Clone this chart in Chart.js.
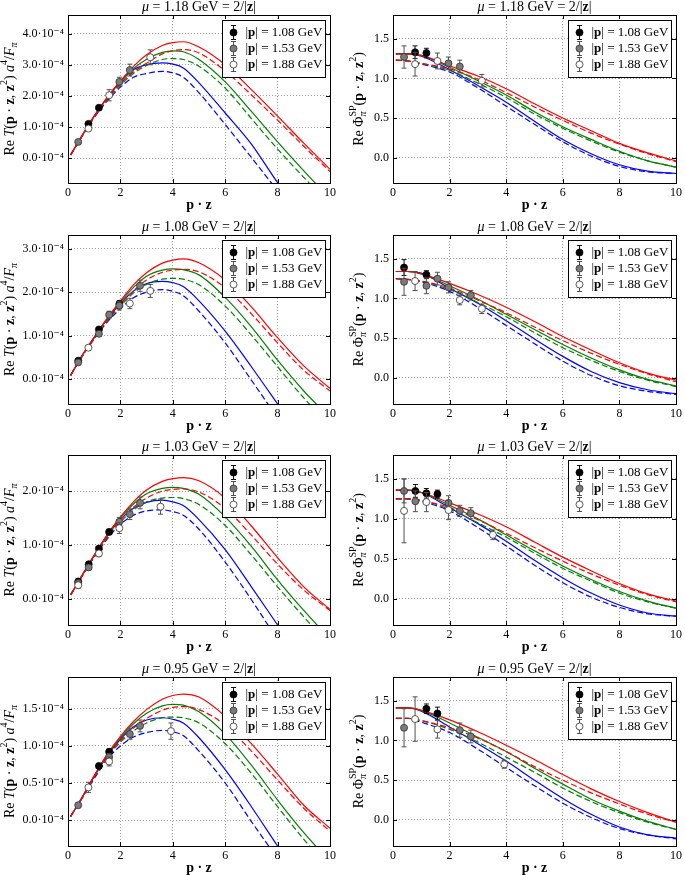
<!DOCTYPE html>
<html><head><meta charset="utf-8">
<script src="https://cdn.jsdelivr.net/npm/chart.js@4.4.1/dist/chart.umd.min.js"></script>
<style>
html,body{margin:0;padding:0;background:#fff;width:685px;height:875px;overflow:hidden;}
canvas{position:absolute;}
</style></head><body>
<script>
const SERIF = '"Liberation Serif","DejaVu Serif",serif';

// ---------- data ----------
const momentumLabels = ['1.08', '1.53', '1.88'];
const muLabels = ['1.18', '1.08', '1.03', '0.95'];
const xTicks = [0, 2, 4, 6, 8, 10];

// curve abscissae (p·z)
const pzCurveT = [0.1, 0.5, 1, 1.5, 2, 2.5, 3, 3.6, 4, 4.4, 5, 6, 7, 8, 9, 10];
const pzCurvePhi = [0.1, 0.5, 1, 2, 3, 4, 5, 6, 7, 8, 9, 10];

// Re T curves (units of 1e-4): red solid, red dashed, green solid, green dashed, blue solid, blue dashed
const T118_curves = [
  [0.10, 0.67, 1.35, 1.95, 2.48, 2.95, 3.32, 3.62, 3.71, 3.74, 3.57, 3.00, 2.20, 1.35, 0.48, -0.36],
  [0.10, 0.66, 1.32, 1.90, 2.40, 2.77, 3.05, 3.35, 3.45, 3.49, 3.38, 2.80, 2.03, 1.22, 0.38, -0.43],
  [0.10, 0.67, 1.35, 1.95, 2.47, 2.88, 3.18, 3.40, 3.45, 3.42, 3.17, 2.45, 1.50, 0.52, -0.41, -1.30],
  [0.10, 0.66, 1.32, 1.88, 2.35, 2.72, 2.98, 3.17, 3.20, 3.17, 2.95, 2.25, 1.27, 0.29, -0.62, -1.50],
  [0.10, 0.67, 1.35, 1.94, 2.45, 2.84, 3.00, 3.06, 3.02, 2.90, 2.42, 1.45, 0.45, -0.79, -1.90, -3.00],
  [0.10, 0.65, 1.30, 1.84, 2.28, 2.60, 2.72, 2.79, 2.74, 2.60, 2.10, 1.08, 0.02, -1.05, -2.10, -3.10]
];
const T108_curves = [
  [0.08, 0.50, 0.96, 1.40, 1.80, 2.17, 2.45, 2.67, 2.74, 2.77, 2.68, 2.28, 1.66, 0.95, 0.30, -0.22],
  [0.08, 0.49, 0.94, 1.36, 1.72, 2.03, 2.28, 2.46, 2.51, 2.53, 2.47, 2.10, 1.50, 0.83, 0.20, -0.28],
  [0.08, 0.50, 0.96, 1.39, 1.77, 2.11, 2.37, 2.51, 2.54, 2.52, 2.40, 1.88, 1.20, 0.43, -0.28, -0.90],
  [0.08, 0.49, 0.93, 1.34, 1.68, 1.98, 2.18, 2.30, 2.32, 2.30, 2.17, 1.68, 1.01, 0.28, -0.44, -1.05],
  [0.08, 0.50, 0.95, 1.38, 1.74, 2.03, 2.20, 2.25, 2.22, 2.13, 1.80, 1.10, 0.28, -0.58, -1.45, -2.30],
  [0.08, 0.48, 0.92, 1.31, 1.62, 1.87, 2.00, 2.06, 2.02, 1.92, 1.56, 0.83, -0.03, -0.90, -1.75, -2.50]
];
const T103_curves = [
  [0.07, 0.40, 0.81, 1.19, 1.52, 1.80, 2.02, 2.18, 2.23, 2.25, 2.19, 1.87, 1.35, 0.76, 0.22, -0.20],
  [0.07, 0.39, 0.79, 1.15, 1.46, 1.70, 1.87, 2.00, 2.03, 2.04, 1.98, 1.68, 1.18, 0.64, 0.16, -0.22],
  [0.07, 0.40, 0.80, 1.18, 1.50, 1.76, 1.95, 2.05, 2.07, 2.05, 1.94, 1.52, 0.97, 0.35, -0.22, -0.75],
  [0.07, 0.39, 0.78, 1.13, 1.42, 1.65, 1.80, 1.87, 1.88, 1.86, 1.75, 1.36, 0.81, 0.22, -0.34, -0.88],
  [0.07, 0.40, 0.80, 1.17, 1.47, 1.68, 1.79, 1.83, 1.80, 1.73, 1.47, 0.91, 0.22, -0.49, -1.20, -1.90],
  [0.07, 0.39, 0.77, 1.11, 1.38, 1.55, 1.63, 1.65, 1.62, 1.55, 1.29, 0.68, -0.02, -0.76, -1.45, -2.10]
];
const T095_curves = [
  [0.05, 0.28, 0.60, 0.89, 1.13, 1.33, 1.49, 1.63, 1.68, 1.70, 1.66, 1.40, 1.03, 0.62, 0.20, -0.11],
  [0.05, 0.28, 0.58, 0.86, 1.07, 1.24, 1.37, 1.48, 1.52, 1.53, 1.49, 1.28, 0.93, 0.54, 0.16, -0.15],
  [0.05, 0.28, 0.59, 0.88, 1.11, 1.30, 1.44, 1.54, 1.56, 1.55, 1.46, 1.16, 0.74, 0.27, -0.17, -0.56],
  [0.05, 0.28, 0.58, 0.85, 1.05, 1.20, 1.31, 1.38, 1.39, 1.38, 1.31, 1.03, 0.63, 0.18, -0.26, -0.66],
  [0.05, 0.28, 0.59, 0.87, 1.09, 1.26, 1.35, 1.38, 1.36, 1.31, 1.11, 0.68, 0.18, -0.35, -0.87, -1.35],
  [0.05, 0.27, 0.56, 0.82, 1.00, 1.12, 1.18, 1.21, 1.19, 1.14, 0.93, 0.50, -0.02, -0.52, -1.02, -1.50]
];

// Re Phi curves
const P118_curves = [
  [1.31, 1.31, 1.29, 1.16, 1.03, 0.87, 0.68, 0.50, 0.34, 0.18, 0.06, -0.04],
  [1.23, 1.22, 1.19, 1.12, 0.99, 0.82, 0.64, 0.47, 0.31, 0.17, 0.05, -0.05],
  [1.31, 1.31, 1.29, 1.14, 0.97, 0.79, 0.58, 0.39, 0.23, 0.08, -0.04, -0.12],
  [1.23, 1.22, 1.19, 1.10, 0.94, 0.76, 0.55, 0.37, 0.21, 0.07, -0.04, -0.12],
  [1.31, 1.31, 1.28, 1.11, 0.91, 0.70, 0.46, 0.23, 0.05, -0.09, -0.17, -0.20],
  [1.23, 1.22, 1.18, 1.08, 0.88, 0.65, 0.42, 0.20, 0.02, -0.11, -0.18, -0.20]
];
const P108_curves = [
  [1.34, 1.34, 1.31, 1.19, 1.05, 0.89, 0.71, 0.52, 0.35, 0.19, 0.06, -0.03],
  [1.25, 1.24, 1.22, 1.13, 0.98, 0.82, 0.64, 0.47, 0.31, 0.17, 0.05, -0.05],
  [1.34, 1.34, 1.31, 1.16, 0.99, 0.80, 0.61, 0.42, 0.25, 0.10, -0.02, -0.10],
  [1.25, 1.24, 1.22, 1.11, 0.95, 0.77, 0.57, 0.38, 0.22, 0.08, -0.03, -0.11],
  [1.34, 1.34, 1.32, 1.13, 0.94, 0.72, 0.49, 0.27, 0.08, -0.06, -0.15, -0.20],
  [1.25, 1.24, 1.21, 1.09, 0.89, 0.66, 0.43, 0.21, 0.03, -0.10, -0.17, -0.21]
];
const P103_curves = [
  [1.36, 1.36, 1.33, 1.20, 1.06, 0.90, 0.71, 0.52, 0.35, 0.19, 0.06, -0.03],
  [1.25, 1.25, 1.23, 1.14, 0.99, 0.82, 0.64, 0.47, 0.31, 0.17, 0.05, -0.04],
  [1.36, 1.36, 1.33, 1.17, 1.00, 0.80, 0.60, 0.41, 0.24, 0.09, -0.03, -0.12],
  [1.25, 1.25, 1.23, 1.12, 0.95, 0.77, 0.57, 0.38, 0.22, 0.07, -0.04, -0.12],
  [1.36, 1.36, 1.33, 1.14, 0.94, 0.72, 0.48, 0.26, 0.07, -0.08, -0.18, -0.22],
  [1.25, 1.25, 1.22, 1.10, 0.89, 0.66, 0.42, 0.20, 0.02, -0.11, -0.19, -0.22]
];
const P095_curves = [
  [1.41, 1.41, 1.38, 1.26, 1.11, 0.94, 0.76, 0.57, 0.39, 0.23, 0.09, -0.03],
  [1.28, 1.28, 1.25, 1.16, 1.03, 0.86, 0.67, 0.50, 0.34, 0.20, 0.07, -0.03],
  [1.41, 1.41, 1.38, 1.22, 1.04, 0.86, 0.65, 0.45, 0.26, 0.11, -0.02, -0.12],
  [1.28, 1.28, 1.25, 1.14, 0.98, 0.79, 0.60, 0.40, 0.23, 0.09, -0.03, -0.12],
  [1.41, 1.41, 1.37, 1.17, 0.96, 0.74, 0.50, 0.27, 0.07, -0.09, -0.19, -0.23],
  [1.28, 1.28, 1.23, 1.10, 0.89, 0.66, 0.43, 0.21, 0.03, -0.11, -0.19, -0.24]
];

// lattice data: [p·z values], [central values], [errors]
const T118_p108 = [[0.78, 1.18], [1.10, 1.62], [0.04, 0.05]];
const T118_p153 = [[0.39, 1.96, 2.36], [0.52, 2.45, 2.83], [0.03, 0.15, 0.19]];
const T118_p188 = [[0.78, 1.57, 3.14], [0.95, 2.02, 3.24], [0.05, 0.18, 0.24]];
const T108_p108 = [[0.39, 1.18, 1.96], [0.42, 1.14, 1.73], [0.03, 0.04, 0.08]];
const T108_p153 = [[0.39, 1.18, 1.57, 1.96, 2.75], [0.38, 1.04, 1.48, 1.69, 2.15], [0.03, 0.05, 0.08, 0.10, 0.13]];
const T108_p188 = [[0.78, 2.36, 3.14], [0.72, 1.74, 2.03], [0.05, 0.12, 0.15]];
const T103_p108 = [[0.39, 0.79, 1.18, 1.57], [0.32, 0.64, 0.93, 1.24], [0.03, 0.03, 0.04, 0.05]];
const T103_p153 = [[0.39, 0.79, 1.96, 2.36, 2.75], [0.29, 0.58, 1.43, 1.57, 1.78], [0.04, 0.04, 0.08, 0.10, 0.11]];
const T103_p188 = [[0.39, 1.18, 1.96, 3.53], [0.25, 0.84, 1.31, 1.71], [0.06, 0.06, 0.10, 0.14]];
const T095_p108 = [[1.18, 1.57], [0.73, 0.92], [0.03, 0.04]];
const T095_p153 = [[0.39, 1.57, 2.36, 2.75], [0.20, 0.85, 1.16, 1.27], [0.03, 0.05, 0.07, 0.08]];
const T095_p188 = [[0.78, 1.57, 3.93], [0.44, 0.79, 1.20], [0.07, 0.06, 0.11]];

const P118_p108 = [[0.78, 1.18], [1.33, 1.32], [0.08, 0.06]];
const P118_p153 = [[0.39, 1.96, 2.36], [1.27, 1.19, 1.15], [0.14, 0.08, 0.08]];
const P118_p188 = [[0.78, 1.57, 3.14], [1.18, 1.22, 0.97], [0.15, 0.10, 0.08]];
const P108_p108 = [[0.39, 1.18], [1.39, 1.30], [0.10, 0.05]];
const P108_p153 = [[0.39, 1.18, 1.57, 1.96, 2.75], [1.21, 1.16, 1.25, 1.14, 1.04], [0.17, 0.10, 0.08, 0.07, 0.06]];
const P108_p188 = [[0.78, 2.36, 3.14], [1.22, 0.98, 0.87], [0.12, 0.06, 0.06]];
const P103_p108 = [[0.79, 1.18, 1.57], [1.35, 1.32, 1.31], [0.08, 0.06, 0.05]];
const P103_p153 = [[0.39, 0.79, 1.96, 2.36, 2.75], [1.35, 1.22, 1.20, 1.10, 1.07], [0.15, 0.13, 0.09, 0.07, 0.07]];
const P103_p188 = [[0.39, 1.18, 1.96, 3.53], [1.10, 1.21, 1.11, 0.80], [0.40, 0.12, 0.12, 0.06]];
const P095_p108 = [[1.18, 1.57], [1.40, 1.34], [0.06, 0.08]];
const P095_p153 = [[0.39, 2.36, 2.75], [1.16, 1.13, 1.05], [0.24, 0.09, 0.08]];
const P095_p188 = [[0.78, 1.57, 3.93], [1.27, 1.14, 0.70], [0.28, 0.11, 0.05]];

// y tick values (T in units of 1e-4)
const T118_yticks = [0, 1, 2, 3, 4];
const T108_yticks = [0, 1, 2, 3];
const T103_yticks = [0, 1, 2];
const T095_yticks = [0, 0.5, 1, 1.5];
const Phi_yticks = [0, 0.5, 1, 1.5];

// ---------- styling ----------
const curveStyles = [
  {c: '#ff0000', dash: []}, {c: '#ff0000', dash: [6, 3]},
  {c: '#008000', dash: []}, {c: '#008000', dash: [6, 3]},
  {c: '#0000ff', dash: []}, {c: '#0000ff', dash: [6, 3]}
];
const markerStyles = [
  {fill: '#000000', edge: '#000000', err: '#111111'},
  {fill: '#7a7a7a', edge: '#303030', err: '#505050'},
  {fill: '#ffffff', edge: '#303030', err: '#505050'}
];

const rows = [
  {top: 0, plotH: 168}, {top: 220, plotH: 169}, {top: 440, plotH: 170}, {top: 662, plotH: 169}
];
const cols = [
  {left: 0, width: 340, axisW: 68, padR: 10},
  {left: 340, width: 345, axisW: 53, padR: 6}
];

const panels = [
  {r: 0, c: 0, kind: 'T', mu: muLabels[0], curves: T118_curves, data: [T118_p108, T118_p153, T118_p188], yMin: -0.8, yMax: 4.6, yTicks: T118_yticks},
  {r: 0, c: 1, kind: 'P', mu: muLabels[0], curves: P118_curves, data: [P118_p108, P118_p153, P118_p188], yMin: -0.32, yMax: 1.8, yTicks: Phi_yticks},
  {r: 1, c: 0, kind: 'T', mu: muLabels[1], curves: T108_curves, data: [T108_p108, T108_p153, T108_p188], yMin: -0.58, yMax: 3.32, yTicks: T108_yticks},
  {r: 1, c: 1, kind: 'P', mu: muLabels[1], curves: P108_curves, data: [P108_p108, P108_p153, P108_p188], yMin: -0.33, yMax: 1.8, yTicks: Phi_yticks},
  {r: 2, c: 0, kind: 'T', mu: muLabels[2], curves: T103_curves, data: [T103_p108, T103_p153, T103_p188], yMin: -0.49, yMax: 2.67, yTicks: T103_yticks},
  {r: 2, c: 1, kind: 'P', mu: muLabels[2], curves: P103_curves, data: [P103_p108, P103_p153, P103_p188], yMin: -0.33, yMax: 1.8, yTicks: Phi_yticks},
  {r: 3, c: 0, kind: 'T', mu: muLabels[3], curves: T095_curves, data: [T095_p108, T095_p153, T095_p188], yMin: -0.35, yMax: 1.93, yTicks: T095_yticks},
  {r: 3, c: 1, kind: 'P', mu: muLabels[3], curves: P095_curves, data: [P095_p108, P095_p153, P095_p188], yMin: -0.33, yMax: 1.8, yTicks: Phi_yticks}
];

// ---------- rich text helpers ----------
function fontOf(p, size) {
  const s = (p.sup || p.sub) ? Math.round(size * 0.68) : size;
  return (p.i ? 'italic ' : '') + (p.b ? 'bold ' : '') + s + 'px ' + SERIF;
}
function richWidth(ctx, parts, size) {
  let w = 0;
  for (const p of parts) { ctx.font = fontOf(p, size); if (!p.noAdv) w += ctx.measureText(p.t).width; }
  return w;
}
function drawRich(ctx, parts, x, y, size, align) {
  const w = richWidth(ctx, parts, size);
  let cx = align === 'left' ? x : x - w / 2;
  ctx.textBaseline = 'middle';
  ctx.textAlign = 'left';
  ctx.fillStyle = '#000';
  for (const p of parts) {
    ctx.font = fontOf(p, size);
    const dy = p.sup ? -size * 0.38 : (p.sub ? size * 0.28 : 0);
    ctx.fillText(p.t, cx, y + dy);
    if (!p.noAdv) cx += ctx.measureText(p.t).width;
  }
}

const yLabelT = [
  {t: 'Re '}, {t: 'T', i: true}, {t: '('}, {t: 'p', b: true}, {t: ' · '}, {t: 'z', b: true}, {t: ', '},
  {t: 'z', b: true}, {t: '2', sup: true}, {t: ') '}, {t: 'a', i: true}, {t: '4', sup: true}, {t: '/'},
  {t: 'F', i: true}, {t: 'π', i: true, sub: true}
];
const yLabelP = [
  {t: 'Re Φ'}, {t: 'π', i: true, sub: true, noAdv: true}, {t: 'SP', sup: true}, {t: '('}, {t: 'p', b: true},
  {t: ' · '}, {t: 'z', b: true}, {t: ', '}, {t: 'z', b: true}, {t: '2', sup: true}, {t: ')'}
];
const xLabel = [{t: 'p', b: true}, {t: ' · ', b: true}, {t: 'z', b: true}];

// ---------- plugin ----------
const decor = {
  id: 'decor',
  beforeDatasetDraw(chart, args) {
    const ds = chart.data.datasets[args.index];
    if (!ds.err) return;
    const ctx = chart.ctx, xs = chart.scales.x, ys = chart.scales.y, a = chart.chartArea;
    ctx.save();
    ctx.beginPath(); ctx.rect(a.left, a.top, a.right - a.left, a.bottom - a.top); ctx.clip();
    ctx.strokeStyle = ds.errColor; ctx.lineWidth = 1;
    ds.data.forEach((p, i) => {
      const px = xs.getPixelForValue(p.x);
      const y1 = ys.getPixelForValue(p.y - ds.err[i]), y2 = ys.getPixelForValue(p.y + ds.err[i]);
      ctx.beginPath();
      ctx.moveTo(px, y1); ctx.lineTo(px, y2);
      ctx.moveTo(px - 2.5, y1); ctx.lineTo(px + 2.5, y1);
      ctx.moveTo(px - 2.5, y2); ctx.lineTo(px + 2.5, y2);
      ctx.stroke();
    });
    ctx.restore();
  },
  afterDraw(chart, args, opts) {
    const ctx = chart.ctx, a = chart.chartArea, xs = chart.scales.x, ys = chart.scales.y;
    ctx.save();
    // frame
    ctx.strokeStyle = '#000'; ctx.lineWidth = 1;
    ctx.strokeRect(Math.round(a.left) + 0.5, Math.round(a.top) + 0.5, Math.round(a.right - a.left), Math.round(a.bottom - a.top));
    // inner ticks
    ctx.beginPath();
    xs.ticks.forEach(t => {
      const px = Math.round(xs.getPixelForValue(t.value)) + 0.5;
      ctx.moveTo(px, a.bottom); ctx.lineTo(px, a.bottom - 4);
      ctx.moveTo(px, a.top); ctx.lineTo(px, a.top + 4);
    });
    ys.ticks.forEach(t => {
      const py = Math.round(ys.getPixelForValue(t.value)) + 0.5;
      ctx.moveTo(a.left, py); ctx.lineTo(a.left + 4, py);
      ctx.moveTo(a.right, py); ctx.lineTo(a.right - 4, py);
    });
    ctx.stroke();
    // legend
    const bw = 103, bh = 57;
    const bx = Math.round(a.right - 5.5 - bw) + 0.5, by = Math.round(a.top + 5) + 0.5;
    ctx.fillStyle = '#fff';
    ctx.fillRect(bx, by, bw, bh);
    ctx.strokeStyle = '#000'; ctx.lineWidth = 1;
    ctx.strokeRect(bx, by, bw, bh);
    momentumLabels.forEach((m, i) => {
      const ms = markerStyles[i];
      const mx = bx + 11, my = by + 12 + 16 * i;
      ctx.strokeStyle = ms.err; ctx.lineWidth = 1;
      ctx.beginPath();
      ctx.moveTo(mx, my - 7); ctx.lineTo(mx, my + 7);
      ctx.moveTo(mx - 2.5, my - 7); ctx.lineTo(mx + 2.5, my - 7);
      ctx.moveTo(mx - 2.5, my + 7); ctx.lineTo(mx + 2.5, my + 7);
      ctx.stroke();
      ctx.beginPath(); ctx.arc(mx, my, 3.5, 0, Math.PI * 2);
      ctx.fillStyle = ms.fill; ctx.fill();
      ctx.strokeStyle = ms.edge; ctx.lineWidth = 0.8; ctx.stroke();
      drawRich(ctx, [{t: '|'}, {t: 'p', b: true}, {t: '| = ' + m + ' GeV'}], bx + 23, my, 13, 'left');
    });
    // title
    const cx = (a.left + a.right) / 2;
    drawRich(ctx, [{t: 'μ', i: true}, {t: ' = ' + opts.mu + ' GeV = 2/|'}, {t: 'z', b: true}, {t: '|'}], cx, a.top - 8, 14, 'center');
    // x label
    drawRich(ctx, xLabel, cx, a.bottom + 22, 14, 'center');
    // y label
    ctx.save();
    ctx.translate(opts.yLabelX, (a.top + a.bottom) / 2);
    ctx.rotate(-Math.PI / 2);
    drawRich(ctx, opts.kind === 'T' ? yLabelT : yLabelP, 0, 0, 14, 'center');
    ctx.restore();
    ctx.restore();
  }
};

// ---------- build charts ----------
panels.forEach((pn) => {
  const row = rows[pn.r], col = cols[pn.c];
  const canvasH = 15 + row.plotH + 31;
  const cv = document.createElement('canvas');
  cv.width = col.width; cv.height = canvasH;
  cv.style.left = col.left + 'px'; cv.style.top = row.top + 'px';
  cv.style.width = col.width + 'px'; cv.style.height = canvasH + 'px';
  document.body.appendChild(cv);

  const xGrid = pn.kind === 'T' ? pzCurveT : pzCurvePhi;
  const datasets = [];
  // data points: 1.88 first (drawn on top), then 1.53, then 1.08
  [2, 1, 0].forEach(k => {
    const d = pn.data[k], ms = markerStyles[k];
    datasets.push({
      label: '|p| = ' + momentumLabels[k] + ' GeV',
      data: d[0].map((x, i) => ({x: x, y: d[1][i]})),
      err: d[2], errColor: ms.err,
      showLine: false, pointRadius: 3.5, pointHoverRadius: 3.5,
      pointBackgroundColor: ms.fill, pointBorderColor: ms.edge, pointBorderWidth: 0.8
    });
  });
  pn.curves.forEach((ys, k) => {
    const st = curveStyles[k];
    datasets.push({
      data: xGrid.map((x, i) => ({x: x, y: ys[i]})),
      borderColor: st.c, borderDash: st.dash, borderWidth: 1.2,
      pointRadius: 0, fill: false, cubicInterpolationMode: 'monotone'
    });
  });

  new Chart(cv, {
    type: 'line',
    data: {datasets},
    options: {
      responsive: false, animation: false, devicePixelRatio: 1,
      layout: {padding: {left: 0, right: col.padR, top: 15, bottom: 0}},
      plugins: {
        legend: {display: false}, tooltip: {enabled: false}, title: {display: false},
        decor: {mu: pn.mu, kind: pn.kind, yLabelX: pn.c === 0 ? 10 : 19}
      },
      scales: {
        x: {
          type: 'linear', min: 0, max: 10,
          afterBuildTicks: s => { s.ticks = xTicks.map(v => ({value: v})); },
          afterFit: s => { s.height = canvasH - 15 - row.plotH; },
          ticks: {color: '#000', font: {family: SERIF, size: 12}, padding: 3, maxRotation: 0,
                  callback: v => String(v)},
          grid: {color: '#8a8a8a', lineWidth: 0.8, drawTicks: false},
          border: {display: false, dash: [1, 2]}
        },
        y: {
          type: 'linear', min: pn.yMin, max: pn.yMax,
          afterBuildTicks: s => { s.ticks = pn.yTicks.map(v => ({value: v})); },
          afterFit: s => { s.width = col.axisW; },
          ticks: {color: '#000', font: {family: SERIF, size: 12}, padding: 4,
                  callback: v => pn.kind === 'T' ? v.toFixed(1) + '·10⁻⁴' : v.toFixed(1)},
          grid: {color: '#8a8a8a', lineWidth: 0.8, drawTicks: false},
          border: {display: false, dash: [1, 2]}
        }
      }
    },
    plugins: [decor]
  });
});
</script>
</body></html>
